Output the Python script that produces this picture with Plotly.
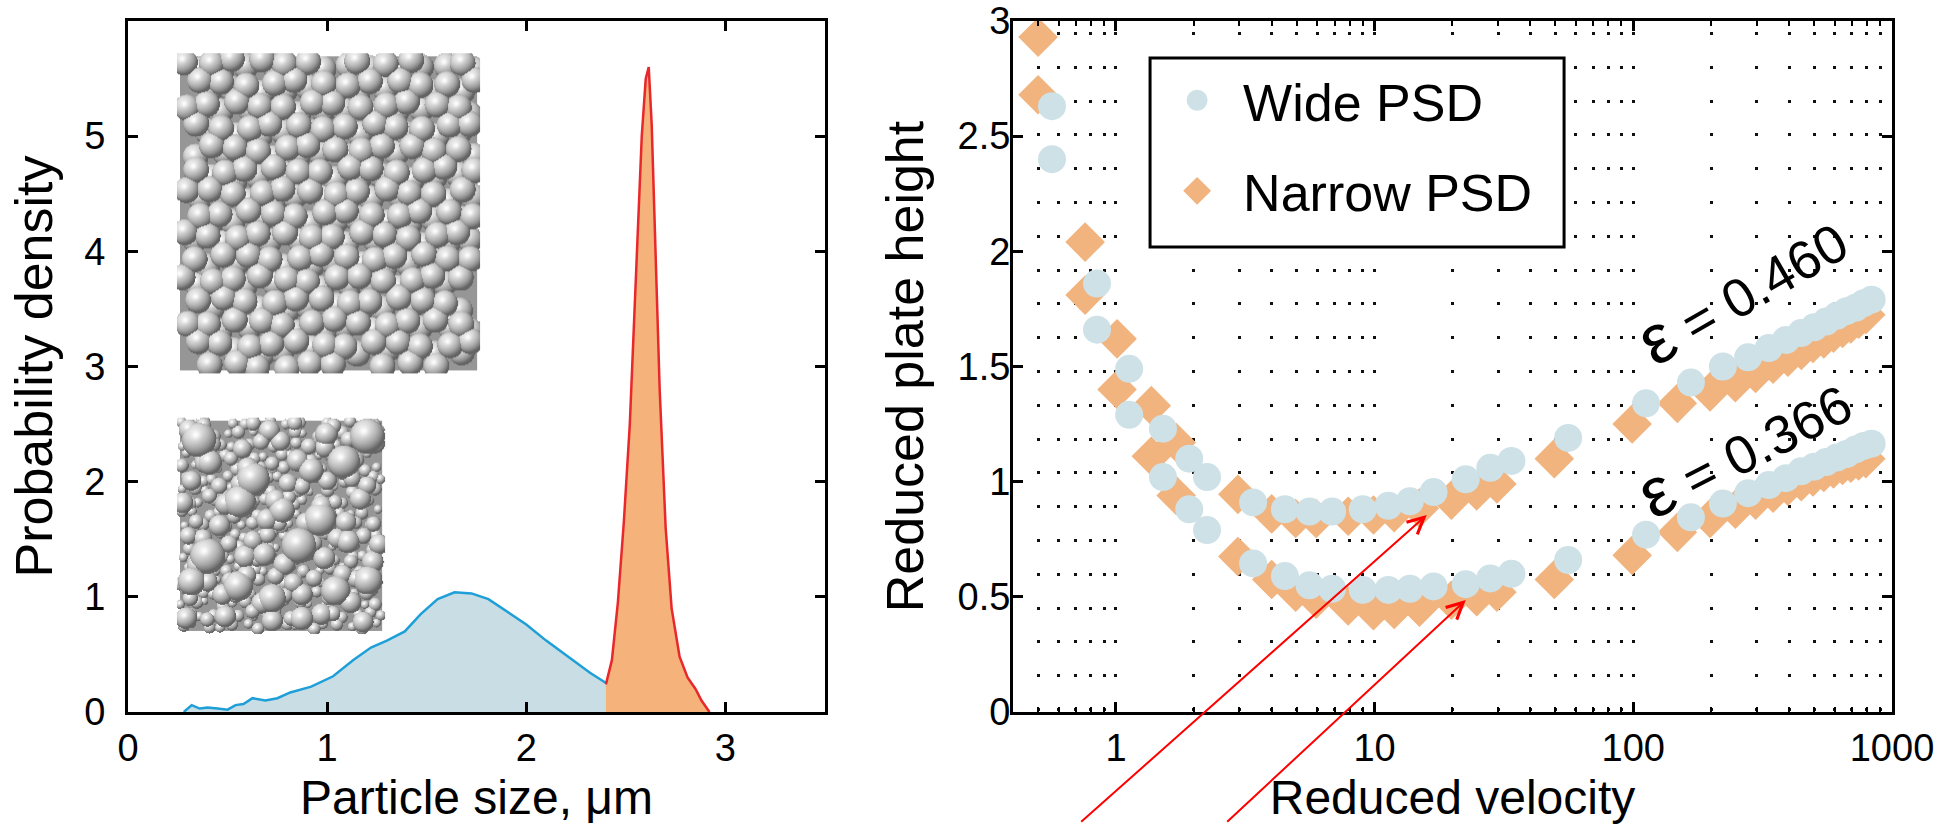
import base64
import struct
import zlib

import numpy as np
import plotly.graph_objects as go

# ---- left panel: particle size distributions ----
SIZE_WIDE = [0.28, 0.32, 0.36, 0.40, 0.45, 0.50, 0.54, 0.58, 0.625, 0.69, 0.75, 0.815,
             0.92, 1.03, 1.13, 1.22, 1.30, 1.39, 1.47, 1.555, 1.64, 1.725, 1.81, 1.89,
             2.00, 2.10, 2.21, 2.32, 2.42, 2.53, 2.63, 2.72, 2.82, 2.92]
PDF_WIDE = [0.00, 0.06, 0.03, 0.04, 0.03, 0.02, 0.06, 0.07, 0.12, 0.10, 0.12, 0.17,
            0.22, 0.31, 0.45, 0.56, 0.62, 0.70, 0.85, 0.98, 1.04, 1.03, 0.98, 0.89,
            0.76, 0.62, 0.48, 0.34, 0.23, 0.15, 0.11, 0.07, 0.035, 0.00]

SIZE_NARROW = [2.40, 2.43, 2.46, 2.49, 2.52, 2.54, 2.56, 2.58, 2.60, 2.615, 2.63, 2.65,
               2.67, 2.70, 2.73, 2.77, 2.81, 2.85, 2.88, 2.92]
PDF_NARROW = [0.24, 0.45, 0.95, 1.65, 2.50, 3.30, 4.20, 5.00, 5.50, 5.60, 5.10, 3.95,
              2.80, 1.60, 0.90, 0.48, 0.30, 0.20, 0.10, 0.00]

# ---- right panel: reduced plate height vs reduced velocity ----
V_WIDE = [0.566, 0.845, 1.125, 1.52, 1.92, 2.25, 3.39, 4.5, 5.6, 6.85, 9.0, 11.3, 13.7,
          16.9, 22.5, 28.0, 33.8, 56.0, 112, 167, 222, 278, 334, 389, 445, 500, 556,
          612, 667, 723, 778, 834]
H_WIDE_E460 = [2.63, 1.86, 1.49, 1.23, 1.10, 1.02, 0.91, 0.88, 0.87, 0.87, 0.88, 0.895,
               0.915, 0.955, 1.01, 1.06, 1.09, 1.19, 1.34, 1.43, 1.50, 1.54, 1.58, 1.615,
               1.645, 1.67, 1.695, 1.72, 1.74, 1.755, 1.775, 1.79]
H_WIDE_E366 = [2.40, 1.66, 1.29, 1.02, 0.88, 0.79, 0.645, 0.59, 0.55, 0.535, 0.53, 0.53,
               0.535, 0.545, 0.555, 0.58, 0.60, 0.66, 0.77, 0.845, 0.905, 0.95, 0.985,
               1.015, 1.045, 1.065, 1.085, 1.105, 1.12, 1.14, 1.155, 1.165]

V_NARROW = [0.50, 0.76, 1.01, 1.37, 1.71, 2.96, 4.0, 4.95, 5.94, 7.9, 9.9, 11.9, 14.9,
            19.8, 24.8, 29.7, 49.5, 99, 148, 198, 248, 297, 347, 396, 446, 495, 545,
            594, 644, 693, 743, 792]
H_NARROW_E460 = [2.93, 2.04, 1.62, 1.33, 1.17, 0.945, 0.86, 0.84, 0.84, 0.85, 0.855,
                 0.865, 0.885, 0.92, 0.96, 0.99, 1.10, 1.25, 1.34, 1.39, 1.43, 1.47,
                 1.51, 1.54, 1.57, 1.60, 1.62, 1.645, 1.665, 1.685, 1.705, 1.725]
H_NARROW_E366 = [2.68, 1.81, 1.40, 1.11, 0.94, 0.675, 0.575, 0.52, 0.49, 0.46, 0.44,
                 0.445, 0.455, 0.485, 0.50, 0.52, 0.575, 0.68, 0.78, 0.84, 0.88, 0.92,
                 0.95, 0.98, 1.00, 1.02, 1.04, 1.055, 1.07, 1.08, 1.09, 1.10]

V_MAJOR = [1, 10, 100, 1000]
V_MINOR = [0.5, 0.6, 0.7, 0.8, 0.9, 2, 3, 4, 5, 6, 7, 8, 9,
           20, 30, 40, 50, 60, 70, 80, 90, 200, 300, 400, 500, 600, 700, 800, 900]
H_TICKS = [0, 0.5, 1, 1.5, 2, 2.5, 3]
H_LABELS = ["0", "0.5", "1", "1.5", "2", "2.5", "3"]

FONT = "Liberation Sans, Arial, sans-serif"
BLUE_LINE, BLUE_FILL = "#1f9fd8", "#c9dde5"
RED_LINE, ORANGE_FILL = "#e8282b", "#f5b27a"
WIDE_MARK, NARROW_MARK = "#cde1e7", "#f1b47f"
GRID_DOTS = "0px,11px,3px,19.8px"


# ---- little shaded-sphere pictures for the two packing insets ----
def _png_uri(rgba):
    h, w, _ = rgba.shape
    raw = b"".join(b"\x00" + rgba[i].tobytes() for i in range(h))

    def chunk(tag, data):
        return (struct.pack(">I", len(data)) + tag + data
                + struct.pack(">I", zlib.crc32(tag + data) & 0xFFFFFFFF))

    png = (b"\x89PNG\r\n\x1a\n"
           + chunk(b"IHDR", struct.pack(">IIBBBBB", w, h, 8, 6, 0, 0, 0))
           + chunk(b"IDAT", zlib.compress(raw, 9))
           + chunk(b"IEND", b""))
    return "data:image/png;base64," + base64.b64encode(png).decode()


def _render(w, h, spheres):
    zbuf = np.full((h, w), -np.inf)
    gray = np.full((h, w), 150.0)
    inside = np.zeros((h, w), bool)
    inside[3:h - 3, 3:w - 3] = True
    L = np.array([-0.35, -0.5, 0.8])
    L /= np.linalg.norm(L)
    Hh = L + np.array([0, 0, 1.0])
    Hh /= np.linalg.norm(Hh)
    for cx, cy, r, z0 in spheres:
        x0, x1 = max(0, int(cx - r)), min(w, int(cx + r) + 2)
        y0, y1 = max(0, int(cy - r)), min(h, int(cy + r) + 2)
        if x0 >= x1 or y0 >= y1:
            continue
        yy, xx = np.mgrid[y0:y1, x0:x1]
        dx = (xx + 0.5 - cx) / r
        dy = (yy + 0.5 - cy) / r
        d2 = dx * dx + dy * dy
        m = d2 < 1
        nz = np.sqrt(np.clip(1 - d2, 0, 1))
        z = z0 + r * nz
        upd = m & (z > zbuf[y0:y1, x0:x1])
        diff = np.clip(dx * L[0] + dy * L[1] + nz * L[2], 0, 1)
        spec = np.clip(dx * Hh[0] + dy * Hh[1] + nz * Hh[2], 0, 1) ** 30
        shade = 100 + 132 * diff + 28 * spec
        zb = zbuf[y0:y1, x0:x1]
        gb = gray[y0:y1, x0:x1]
        ib = inside[y0:y1, x0:x1]
        zb[upd] = z[upd]
        gb[upd] = shade[upd]
        ib[upd] = True
    g = np.clip(gray, 0, 255).astype(np.uint8)
    rgba = np.dstack([g, g, g, np.where(inside, 255, 0).astype(np.uint8)])
    return _png_uri(rgba)


def _mono_packing(w, h, step, r):
    out = []
    for layer, (ox, oy, z0) in enumerate([(0.0, 0.0, 0.0), (0.5, 0.33, -r)]):
        rows = int(h / (step * 0.87)) + 2
        cols = int(w / step) + 2
        for j in range(rows):
            for i in range(cols):
                cx = r * 0.6 + (i + 0.5 * (j % 2) + ox) * step + 3.0 * np.sin(2.39 * i + 1.17 * j + layer)
                cy = r * 0.6 + (j + oy) * step * 0.87 + 3.0 * np.sin(1.73 * i - 2.61 * j + 0.5)
                if r * 0.4 <= cx <= w - r * 0.4 and r * 0.4 <= cy <= h - r * 0.4:
                    out.append((cx, cy, r, z0))
    return out


def _poly_packing(w, h):
    out = []
    for k, (step, r, z0) in enumerate([(13.0, 5.5, -8.0), (22.0, 9.0, -3.0), (46.0, 14.5, 0.0)]):
        rows = int(h / (step * 0.87)) + 2
        cols = int(w / step) + 2
        for j in range(rows):
            for i in range(cols):
                rr = r * (1 + 0.22 * np.sin(3.1 * i + 1.9 * j + k))
                cx = rr * 0.8 + (i + 0.5 * (j % 2)) * step + 0.2 * step * np.sin(2.39 * i + 1.17 * j + k)
                cy = rr * 0.8 + j * step * 0.87 + 0.2 * step * np.sin(1.73 * i - 2.61 * j + k)
                if rr * 0.5 <= cx <= w - rr * 0.5 and rr * 0.5 <= cy <= h - rr * 0.5:
                    out.append((cx, cy, rr, z0))
    return out


fig = go.Figure()

# left panel
fig.add_trace(go.Scatter(x=SIZE_WIDE, y=PDF_WIDE, mode="lines", fill="tozeroy",
                         fillcolor=BLUE_FILL, line=dict(color=BLUE_LINE, width=2.5),
                         showlegend=False, xaxis="x", yaxis="y"))
fig.add_trace(go.Scatter(x=SIZE_NARROW, y=PDF_NARROW, mode="lines", fill="tozeroy",
                         fillcolor=ORANGE_FILL, line=dict(color=RED_LINE, width=2.5),
                         showlegend=False, xaxis="x", yaxis="y"))

# right panel: narrow first so the circles sit on top
for h_vals, show in [(H_NARROW_E460, True), (H_NARROW_E366, False)]:
    fig.add_trace(go.Scatter(x=V_NARROW, y=h_vals, mode="markers", name="Narrow PSD",
                             legendgroup="narrow", legendrank=2, showlegend=show,
                             marker=dict(symbol="diamond", size=25, color=NARROW_MARK,
                                         line=dict(color=NARROW_MARK, width=5)),
                             xaxis="x2", yaxis="y2"))
for h_vals, show in [(H_WIDE_E460, True), (H_WIDE_E366, False)]:
    fig.add_trace(go.Scatter(x=V_WIDE, y=h_vals, mode="markers", name="Wide PSD",
                             legendgroup="wide", legendrank=1, showlegend=show,
                             marker=dict(symbol="circle", size=23, color=WIDE_MARK,
                                         line=dict(color=WIDE_MARK, width=5)),
                             xaxis="x2", yaxis="y2"))

tick_font = dict(family=FONT, size=38, color="black")
x_title_font = dict(family=FONT, size=48, color="black")
y_title_font = dict(family=FONT, size=52, color="black")
frame = dict(ticks="inside", ticklen=10, tickwidth=2.5, tickcolor="black", showline=True,
             linewidth=3, linecolor="black", mirror="allticks", zeroline=False,
             tickfont=tick_font, automargin=False)

fig.update_layout(
    width=1942, height=824,
    margin=dict(l=128, r=50, t=21, b=112),
    paper_bgcolor="white", plot_bgcolor="white",
    font=dict(family=FONT, color="black"),
    xaxis=dict(domain=[0, 0.3951], range=[0, 3.5], tickvals=[0, 1, 2, 3], showgrid=False,
               anchor="y", ticklabelstandoff=0,
               title=dict(text="Particle size, μm", font=x_title_font, standoff=30), **frame),
    yaxis=dict(domain=[0, 1], range=[0, 6], tickvals=[0, 1, 2, 3, 4, 5], showgrid=False,
               anchor="x", ticklabelstandoff=12,
               title=dict(text="Probability density", font=y_title_font, standoff=16), **frame),
    xaxis2=dict(domain=[0.5017, 1], type="log", range=[np.log10(0.4), 3], anchor="y2",
                tickvals=V_MAJOR, ticktext=[str(v) for v in V_MAJOR], ticklabelstandoff=0,
                showgrid=True, gridcolor="#111111", gridwidth=3, griddash=GRID_DOTS,
                minor=dict(tickmode="array", tickvals=V_MINOR, ticks="inside", ticklen=5,
                           tickwidth=2, tickcolor="black", showgrid=True,
                           gridcolor="#111111", gridwidth=3, griddash=GRID_DOTS),
                title=dict(text="Reduced velocity", font=x_title_font, standoff=30), **frame),
    yaxis2=dict(domain=[0, 1], range=[0, 3], tickvals=H_TICKS, ticktext=H_LABELS,
                showgrid=False, anchor="x2", ticklabelstandoff=-8,
                title=dict(text="Reduced plate height", font=y_title_font, standoff=18), **frame),
    legend=dict(x=0.580, y=0.9436, xanchor="left", yanchor="top",
                bgcolor="rgba(0,0,0,0)", borderwidth=0, itemwidth=82, tracegroupgap=20,
                font=dict(family=FONT, size=52, color="black")),
)

# legend frame (white box over the dotted grid)
fig.add_shape(type="rect", xref="paper", yref="paper", x0=0.5794, x1=0.8141,
              y0=0.6729, y1=0.9465, line=dict(color="black", width=3),
              fillcolor="white", layer="above")

eps = "<span style='font-size:70px'>ε</span>"
fig.add_annotation(x=np.log10(262), y=1.83, xref="x2", yref="y2", text=eps + " = 0.460",
                   showarrow=False, textangle=-30, font=dict(family=FONT, size=54))
fig.add_annotation(x=np.log10(268), y=1.15, xref="x2", yref="y2", text=eps + " = 0.366",
                   showarrow=False, textangle=-27, font=dict(family=FONT, size=54))

# red pointer arrows coming from below the frame
for v, hh, ax, ay in [(15.9, 0.855, -347, 308), (22.5, 0.486, -240, 223)]:
    fig.add_annotation(x=np.log10(v), y=hh, xref="x2", yref="y2", text="", showarrow=True,
                       ax=ax, ay=ay, arrowcolor="#ff0000", arrowwidth=2, arrowhead=5,
                       arrowsize=1.6, standoff=0)

fig.add_layout_image(dict(source=_render(303, 320, _mono_packing(303, 320, 25.0, 13.0)),
                          xref="x", yref="y", x=0.246, y=5.72, sizex=1.522, sizey=2.78,
                          xanchor="left", yanchor="top", sizing="stretch", layer="above"))
fig.add_layout_image(dict(source=_render(208, 216, _poly_packing(208, 216)),
                          xref="x", yref="y", x=0.246, y=2.556, sizex=1.045, sizey=1.878,
                          xanchor="left", yanchor="top", sizing="stretch", layer="above"))

fig.write_html("out.html", config={"displayModeBar": False},
               post_script="document.body.style.margin='0';document.body.style.overflow='hidden';")
